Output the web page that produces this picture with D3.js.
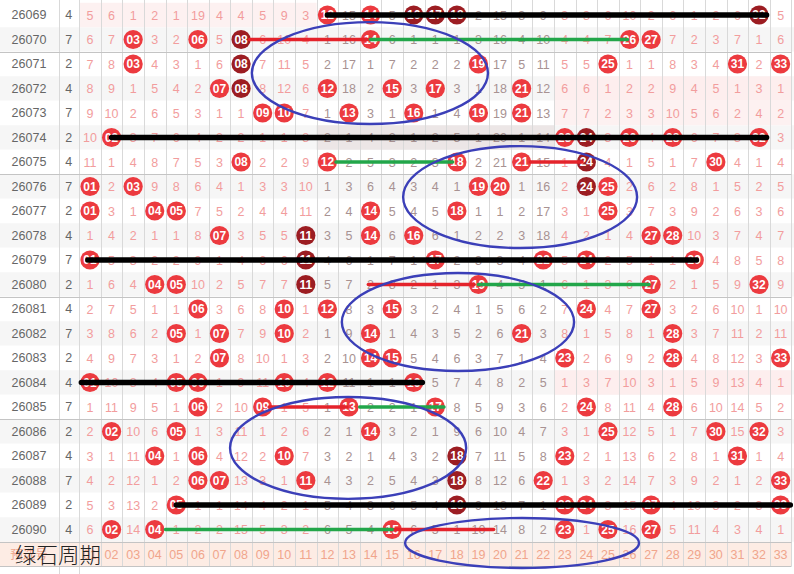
<!DOCTYPE html>
<html>
<head>
<meta charset="utf-8">
<script src="https://cdn.jsdelivr.net/npm/d3@7/dist/d3.min.js"></script>
<style>
  html, body { margin: 0; padding: 0; background: #fff; }
  svg { display: block; font-family: Arial, "Liberation Sans", sans-serif; }
</style>
</head>
<body>
<div id="chart"></div>
<script>
// issue numbers and the small digit column
const issues = ['26069','26070','26071','26072','26073','26074','26075','26076','26077','26078','26079',
                '26080','26081','26082','26083','26084','26085','26086','26087','26088','26089','26090'];
const tails = [4,7,2,4,7,2,4,7,2,4,7,2,4,7,2,4,7,2,4,7,2,4];

// red balls drawn per issue
const draws = [
  [12,14,16,17,18,32], [3,6,8,14,26,27], [3,8,19,25,31,33], [7,8,12,15,17,21],
  [9,10,13,16,19,21], [2,23,24,26,28,32], [8,12,18,21,24,30], [1,3,19,20,24,25],
  [1,4,5,14,18,25], [7,11,14,16,27,28], [1,11,17,22,24,29], [4,5,11,19,27,32],
  [6,10,12,15,24,27], [5,7,10,14,21,28], [7,14,15,23,28,33], [1,5,6,10,12,16],
  [6,9,13,17,24,28], [2,5,14,25,30,32], [4,6,10,18,23,31], [6,7,11,18,22,33],
  [5,18,23,24,27,33], [2,4,15,23,25,27]
];
// balls shown in dark red
const darkBalls = [
  [16,17,18,32], [8], [8], [8], [], [24], [24], [24], [], [11], [11], [11],
  [], [], [], [], [], [], [18], [18], [18], []
];

// omission counts (0 = drawn)
const omissions = [
  [5,6,1,2,1,19,4,4,5,9,3,0,15,0,5,0,0,0,2,15,3,9,3,3,6,10,2,6,1,2,6,0,5],
  [6,7,0,3,2,0,5,0,6,10,4,1,16,0,6,1,1,1,3,16,4,10,4,4,7,0,0,7,2,3,7,1,6],
  [7,8,0,4,3,1,6,0,7,11,5,2,17,1,7,2,2,2,0,17,5,11,5,5,0,1,1,8,3,4,0,2,0],
  [8,9,1,5,4,2,0,0,8,12,6,0,18,2,0,3,0,3,1,18,0,12,6,6,1,2,2,9,4,5,1,3,1],
  [9,10,2,6,5,3,1,1,0,0,7,1,0,3,1,0,1,4,0,19,0,13,7,7,2,3,3,10,5,6,2,4,2],
  [10,0,3,7,6,4,2,2,1,1,8,2,1,4,2,1,2,5,1,20,1,14,0,0,3,0,4,0,6,7,3,0,3],
  [11,1,4,8,7,5,3,0,2,2,9,0,2,5,3,2,3,0,2,21,0,15,1,0,4,1,5,1,7,0,4,1,4],
  [0,2,0,9,8,6,4,1,3,3,10,1,3,6,4,3,4,1,0,0,1,16,2,0,0,2,6,2,8,1,5,2,5],
  [0,3,1,0,0,7,5,2,4,4,11,2,4,0,5,4,5,0,1,1,2,17,3,1,0,3,7,3,9,2,6,3,6],
  [1,4,2,1,1,8,0,3,5,5,0,3,5,0,6,0,6,1,2,2,3,18,4,2,1,4,0,0,10,3,7,4,7],
  [0,5,3,2,2,9,1,4,6,6,0,4,6,1,7,1,0,2,3,3,4,0,5,0,2,5,1,1,0,4,8,5,8],
  [1,6,4,0,0,10,2,5,7,7,0,5,7,2,8,2,1,3,0,4,5,1,6,1,3,6,0,2,1,5,9,0,9],
  [2,7,5,1,1,0,3,6,8,0,1,0,8,3,0,3,2,4,1,5,6,2,7,0,4,7,0,3,2,6,10,1,10],
  [3,8,6,2,0,1,0,7,9,0,2,1,9,0,1,4,3,5,2,6,0,3,8,1,5,8,1,0,3,7,11,2,11],
  [4,9,7,3,1,2,0,8,10,1,3,2,10,0,0,5,4,6,3,7,1,4,0,2,6,9,2,0,4,8,12,3,0],
  [0,10,8,4,0,0,1,9,11,0,4,0,11,1,1,0,5,7,4,8,2,5,1,3,7,10,3,1,5,9,13,4,1],
  [1,11,9,5,1,0,2,10,0,1,5,1,0,2,2,1,0,8,5,9,3,6,2,0,8,11,4,0,6,10,14,5,2],
  [2,0,10,6,0,1,3,11,1,2,6,2,1,0,3,2,1,9,6,10,4,7,3,1,0,12,5,1,7,0,15,0,3],
  [3,1,11,0,1,0,4,12,2,0,7,3,2,1,4,3,2,0,7,11,5,8,0,2,1,13,6,2,8,1,0,1,4],
  [4,2,12,1,2,0,0,13,3,1,0,4,3,2,5,4,3,0,8,12,6,0,1,3,2,14,7,3,9,2,1,2,0],
  [5,3,13,2,0,1,1,14,4,2,1,5,4,3,6,5,4,0,9,13,7,1,0,0,3,15,0,4,10,3,2,3,0],
  [6,0,14,0,1,2,2,15,5,3,2,6,5,4,0,6,5,1,10,14,8,2,0,1,0,16,0,5,11,4,3,4,1]
];

// column labels along the bottom
const numbers = d3.range(1, 34).map(n => String(n).padStart(2, '0'));

// hand-drawn marks (in ball-number / issue units)
const blackLines = [
  { issue: '26069', from: 12, to: 32.35 },
  { issue: '26074', from: 2, to: 32.35 },
  { issue: '26079', from: 0.9, to: 29.1 },
  { issue: '26084', from: 0.6, to: 16.4 },
  { issue: '26089', from: 5, to: 33.45 }
];
const redLines = [
  { issue: '26070', from: 8.4, to: 14 },
  { issue: '26075', from: 21.4, to: 23.8 },
  { issue: '26080', from: 13.9, to: 18.8 },
  { issue: '26085', from: 9.3, to: 12.9 },
  { issue: '26090', from: 15, to: 19.7 }
];
const greenLines = [
  { issue: '26070', from: 14, to: 25.9 },
  { issue: '26075', from: 12.4, to: 17.8 },
  { issue: '26080', from: 19, to: 26.9 },
  { issue: '26085', from: 13.5, to: 17.4 },
  { issue: '26090', from: 4.5, to: 15 }
];
const rings = [
  { col: 13.97, row: 2.37, rc: 5.47, rr: 2.08 },
  { col: 20.93, row: 7.43, rc: 5.42, rr: 2.08 },
  { col: 18.05, row: 12.53, rc: 5.38, rr: 2.0 },
  { col: 12.96, row: 17.67, rc: 5.47, rr: 2.08 },
  { col: 21.02, row: 21.55, rc: 5.42, rr: 1.02 }
];

const width = 794, height = 574;
const svg = d3.select('#chart').append('svg')
    .attr('width', width)
    .attr('height', height);

// scales
const x = d3.scaleBand().domain(d3.range(1, 34)).range([79.2, 791.4]);
const y = d3.scaleBand().domain(issues).range([2.75, 541.75]);
const bw = x.bandwidth(), rh = y.bandwidth();
const xc = d3.scaleLinear().domain([1, 33]).range([x(1) + bw / 2, x(33) + bw / 2]);
const yr = d3.scaleLinear().domain([0, issues.length - 1])
    .range([y(issues[0]) + rh / 2, y(issues[issues.length - 1]) + rh / 2]);
const labelTop = y.range()[1];

const pinkText = '#f29d9d', midText = '#a89292';
const zoneColor = c => (c >= 12 && c <= 22) ? midText : pinkText;

// row backgrounds
svg.append('g').selectAll('rect')
    .data(issues)
    .join('rect')
    .attr('x', 0)
    .attr('y', d => y(d))
    .attr('width', width)
    .attr('height', rh)
    .attr('fill', (d, i) => i % 2 ? '#f6f6f6' : '#fff');

// a few shaded blocks
const shades = [
  { issue: '26069', from: 1, to: 11, fill: '#fdf1f1' },
  { issue: '26072', from: 23, to: 33, fill: '#fdeeee' },
  { issue: '26073', from: 23, to: 33, fill: '#fdf1f1' },
  { issue: '26074', from: 12, to: 22, fill: '#ece6e6' },
  { issue: '26084', from: 23, to: 33, fill: '#fdeeee' }
];
svg.append('g').selectAll('rect')
    .data(shades)
    .join('rect')
    .attr('x', d => x(d.from))
    .attr('y', d => y(d.issue))
    .attr('width', d => x(d.to) + bw - x(d.from))
    .attr('height', rh)
    .attr('fill', d => d.fill);

// bottom label row
svg.append('rect')
    .attr('x', 0).attr('y', labelTop)
    .attr('width', 791.4).attr('height', rh)
    .attr('fill', '#fdece4');

// grid lines
const grid = svg.append('g').attr('stroke', '#d9d9d9').attr('stroke-width', 1);
grid.selectAll('line.v')
    .data([58.5].concat(d3.range(1, 34).map(c => x(c))).concat([x(33) + bw]))
    .join('line')
    .attr('class', 'v')
    .attr('x1', d => Math.round(d) + 0.5).attr('x2', d => Math.round(d) + 0.5)
    .attr('y1', 0).attr('y2', labelTop + rh);
grid.selectAll('line.v2')
    .data([58.5, x(1)])
    .join('line')
    .attr('class', 'v2')
    .attr('x1', d => Math.round(d) + 0.5).attr('x2', d => Math.round(d) + 0.5)
    .attr('y1', labelTop + rh).attr('y2', height);

// group separators every five issues
const seps = ['26071', '26076', '26081', '26086'].map(d => y(d)).concat([labelTop, labelTop + rh]);
svg.append('g').selectAll('line')
    .data(seps)
    .join('line')
    .attr('x1', 0).attr('x2', 791.4)
    .attr('y1', d => Math.round(d) + 0.5).attr('y2', d => Math.round(d) + 0.5)
    .attr('stroke', '#c4c4c4')
    .attr('stroke-width', 1.2);

// issue + digit column
const left = svg.append('g').attr('font-size', 12.5).attr('fill', '#666');
left.selectAll('text.issue')
    .data(issues)
    .join('text')
    .attr('class', 'issue')
    .attr('x', 29).attr('y', d => y(d) + rh / 2)
    .attr('dy', '.35em').attr('text-anchor', 'middle')
    .text(d => d);
left.selectAll('text.tail')
    .data(tails)
    .join('text')
    .attr('class', 'tail')
    .attr('x', 68.8).attr('y', (d, i) => y(issues[i]) + rh / 2)
    .attr('dy', '.35em').attr('text-anchor', 'middle')
    .text(d => d);

// omission numbers
const cells = [];
omissions.forEach((row, i) => row.forEach((v, j) => {
  if (!draws[i].includes(j + 1)) cells.push({ issue: issues[i], col: j + 1, v });
}));
svg.append('g').attr('font-size', 12.5)
    .selectAll('text')
    .data(cells)
    .join('text')
    .attr('x', d => x(d.col) + bw / 2)
    .attr('y', d => y(d.issue) + rh / 2)
    .attr('dy', '.36em')
    .attr('text-anchor', 'middle')
    .attr('fill', d => zoneColor(d.col))
    .text(d => d.v);

// balls
const balls = [];
draws.forEach((row, i) => row.forEach(n => balls.push({ issue: issues[i], n, dark: darkBalls[i].includes(n) })));
const ball = svg.append('g').selectAll('g')
    .data(balls)
    .join('g')
    .attr('transform', d => `translate(${x(d.n) + bw / 2},${y(d.issue) + rh / 2})`);
ball.append('circle')
    .attr('r', 9.6)
    .attr('fill', d => d.dark ? '#9c1d22' : '#ec3a3f');
ball.append('text')
    .attr('text-anchor', 'middle')
    .attr('dy', '.36em')
    .attr('font-size', 12)
    .attr('font-weight', 'bold')
    .attr('fill', '#fff')
    .text(d => String(d.n).padStart(2, '0'));

// bottom labels
svg.append('g').attr('font-size', 12.5).attr('fill', '#f0a58c')
    .selectAll('text')
    .data(numbers)
    .join('text')
    .attr('x', (d, i) => x(i + 1) + bw / 2)
    .attr('y', labelTop + rh / 2)
    .attr('dy', '.36em')
    .attr('text-anchor', 'middle')
    .text(d => d);
svg.append('text')
    .attr('x', 29).attr('y', labelTop + rh / 2).attr('dy', '.36em')
    .attr('text-anchor', 'middle')
    .attr('font-size', 12.5).attr('fill', '#f0a58c')
    .attr('font-family', '"Noto Sans CJK SC", sans-serif')
    .text('预选号');

// hand-drawn strokes
const marks = svg.append('g').attr('stroke-linecap', 'round').attr('fill', 'none');
function strokes(data, color, w) {
  marks.append('g').selectAll('line')
      .data(data)
      .join('line')
      .attr('x1', d => xc(d.from)).attr('x2', d => xc(d.to))
      .attr('y1', d => y(d.issue) + rh / 2).attr('y2', d => y(d.issue) + rh / 2)
      .attr('stroke', color)
      .attr('stroke-width', w);
}
strokes(redLines, '#e4232b', 3.6);
strokes(greenLines, '#22a64a', 3.6);
strokes(blackLines, '#000', 5.5);

// ellipses
marks.append('g').selectAll('ellipse')
    .data(rings)
    .join('ellipse')
    .attr('cx', d => xc(d.col))
    .attr('cy', d => yr(d.row))
    .attr('rx', d => xc(1 + d.rc) - xc(1))
    .attr('ry', d => yr(d.rr) - yr(0))
    .attr('stroke', '#3b3fb8')
    .attr('stroke-width', 2.4);

// overlay caption
svg.append('text')
    .attr('x', 15).attr('y', labelTop + rh - 3)
    .attr('font-size', 21.5)
    .attr('font-family', '"Noto Sans CJK SC", sans-serif')
    .attr('font-weight', 300)
    .attr('fill', '#222')
    .text('绿石周期');
</script>
</body>
</html>
